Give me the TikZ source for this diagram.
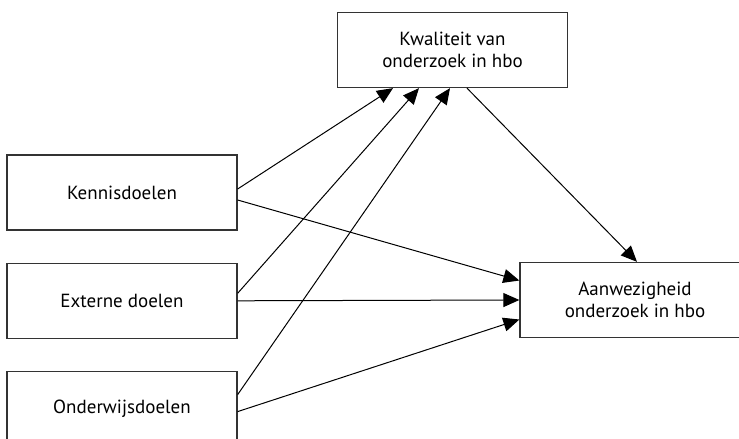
\documentclass[tikz,border=0pt]{standalone}
\usepackage{fontspec}
\setmainfont{PT Sans}
\usetikzlibrary{arrows.meta, positioning}

\begin{document}
\begin{tikzpicture}[x=1pt, y=1pt,
      >={Triangle[length=16pt, width=14pt]},
  doel/.style = {draw=black!80, line width=1.3pt, minimum width=230pt,
                 minimum height=75pt, align=center, inner sep=0pt,
                 font=\fontsize{19}{22.5}\selectfont}]
  \useasboundingbox (0,0) rectangle (739,439);
  \node[doel] (kwal) at (452.5,389) {Kwaliteit van\\onderzoek in hbo};
  \node[doel] (kennis) at (122,246.5) {Kennisdoelen};
  \node[doel] (extern) [below=32pt of kennis] {Externe doelen};
  \node[doel] (onderw) [below=32pt of extern] {Onderwijsdoelen};
  \node[doel] (aanw) at (635,139) {Aanwezigheid\\onderzoek in hbo};
  \path[->, line width=1pt]
    ([yshift=3.5pt]kennis.east) edge ([xshift=-59.5pt]kwal.south)
    ([yshift=-7.5pt]kennis.east) edge ([yshift=19.5pt]aanw.west)
    ([yshift=7.5pt]extern.east) edge ([xshift=-33.5pt]kwal.south)
    (extern.east) edge (aanw.west)
    ([yshift=14.5pt]onderw.east) edge ([xshift=-2.5pt]kwal.south)
    ([yshift=-2.5pt]onderw.east) edge ([yshift=-19.5pt]aanw.west)
    ([xshift=14.5pt]kwal.south) edge ([xshift=2pt]aanw.north);
\end{tikzpicture}
\end{document}
